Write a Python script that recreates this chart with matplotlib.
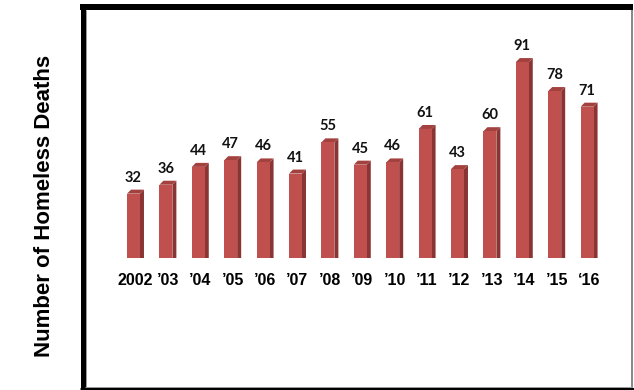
import matplotlib
matplotlib.use("Agg")
import matplotlib.pyplot as plt
from matplotlib.patches import Polygon
from matplotlib.lines import Line2D
import numpy as np

years = ["2002", "\u201903", "\u201904", "\u201905", "\u201906", "\u201907", "\u201908",
         "\u201909", "\u201910", "\u201911", "\u201912", "\u201913", "\u201914", "\u201915",
         "\u201816"]
deaths = [32, 36, 44, 47, 46, 41, 55, 45, 46, 61, 43, 60, 91, 78, 71]

W, H, DPI = 634, 390, 100
fig = plt.figure(figsize=(W / DPI, H / DPI), dpi=DPI)
fig.patch.set_facecolor("white")

# plotting area (pixel bounds within the frame)
ax_l, ax_r, ax_b, ax_t = 86, 630, 258, 11
ax = fig.add_axes([ax_l / W, (H - ax_b) / H, (ax_r - ax_l) / W, (ax_b - ax_t) / H])
ax.set_facecolor("none")
for s in ax.spines.values():
    s.set_visible(False)

x0, x1 = -1.466, 15.324
y0, y1 = 3.14, 113.9
ax.set_xlim(x0, x1)
ax.set_ylim(y0, y1)

x = np.arange(len(deaths))
bw = 0.4
front = "#C0504D"
side = "#8A3533"
top = "#A3413E"

ax.bar(x, deaths, width=bw, color=front, edgecolor="none", zorder=3)

# 3D depth of the bars, 4 px right and up
depth_px = 4
dx = depth_px * (x1 - x0) / (ax_r - ax_l)
dy = depth_px * (y1 - y0) / (ax_b - ax_t)
for xi, v in zip(x, deaths):
    xr = xi + bw / 2
    xl = xi - bw / 2
    ax.add_patch(Polygon([(xr, 0), (xr, v), (xr + dx, v + dy), (xr + dx, 0)],
                         closed=True, facecolor=side, edgecolor="none", zorder=2))
    ax.add_patch(Polygon([(xl, v), (xr, v), (xr + dx, v + dy), (xl + dx, v + dy)],
                         closed=True, facecolor=top, edgecolor="none", zorder=2))
    ax.annotate(str(v), (xi, v), xytext=(0, 11.5), textcoords="offset points",
                ha="center", va="center", fontsize=10.5, fontweight="bold",
                family=["Lato", "DejaVu Sans"], color="#111111")

ax.set_yticks([])
ax.set_xticks(x + dx / 2)
ax.set_xticklabels(years, fontsize=11.5, fontweight="bold",
                   family=["Liberation Sans", "DejaVu Sans"])
ax.tick_params(axis="x", length=0, pad=11)

fig.text(45 / W, (H - 206) / H, "Number of Homeless Deaths", rotation=90,
         ha="center", va="center", fontsize=16, fontweight="bold",
         family=["Liberation Sans", "DejaVu Sans"])

# outer frame
def hline(y, xa, xb, lw, c):
    fig.add_artist(Line2D([xa / W, xb / W], [(H - y) / H, (H - y) / H],
                          lw=lw * 72 / DPI, color=c, solid_capstyle="butt"))

def vline(xp, ya, yb, lw, c):
    fig.add_artist(Line2D([xp / W, xp / W], [(H - ya) / H, (H - yb) / H],
                          lw=lw * 72 / DPI, color=c, solid_capstyle="butt"))

hline(7, 80, 633, 6, "black")
vline(82.5, 4, 390, 5, "black")
vline(632, 10, 388, 2, "#8a8a8a")
hline(388.5, 80, 634, 3, "black")
hline(386.5, 85, 632, 1, "#9a9a9a")
vline(85.5, 10, 387, 1, "#9a9a9a")

fig.savefig("out.png", dpi=DPI)
